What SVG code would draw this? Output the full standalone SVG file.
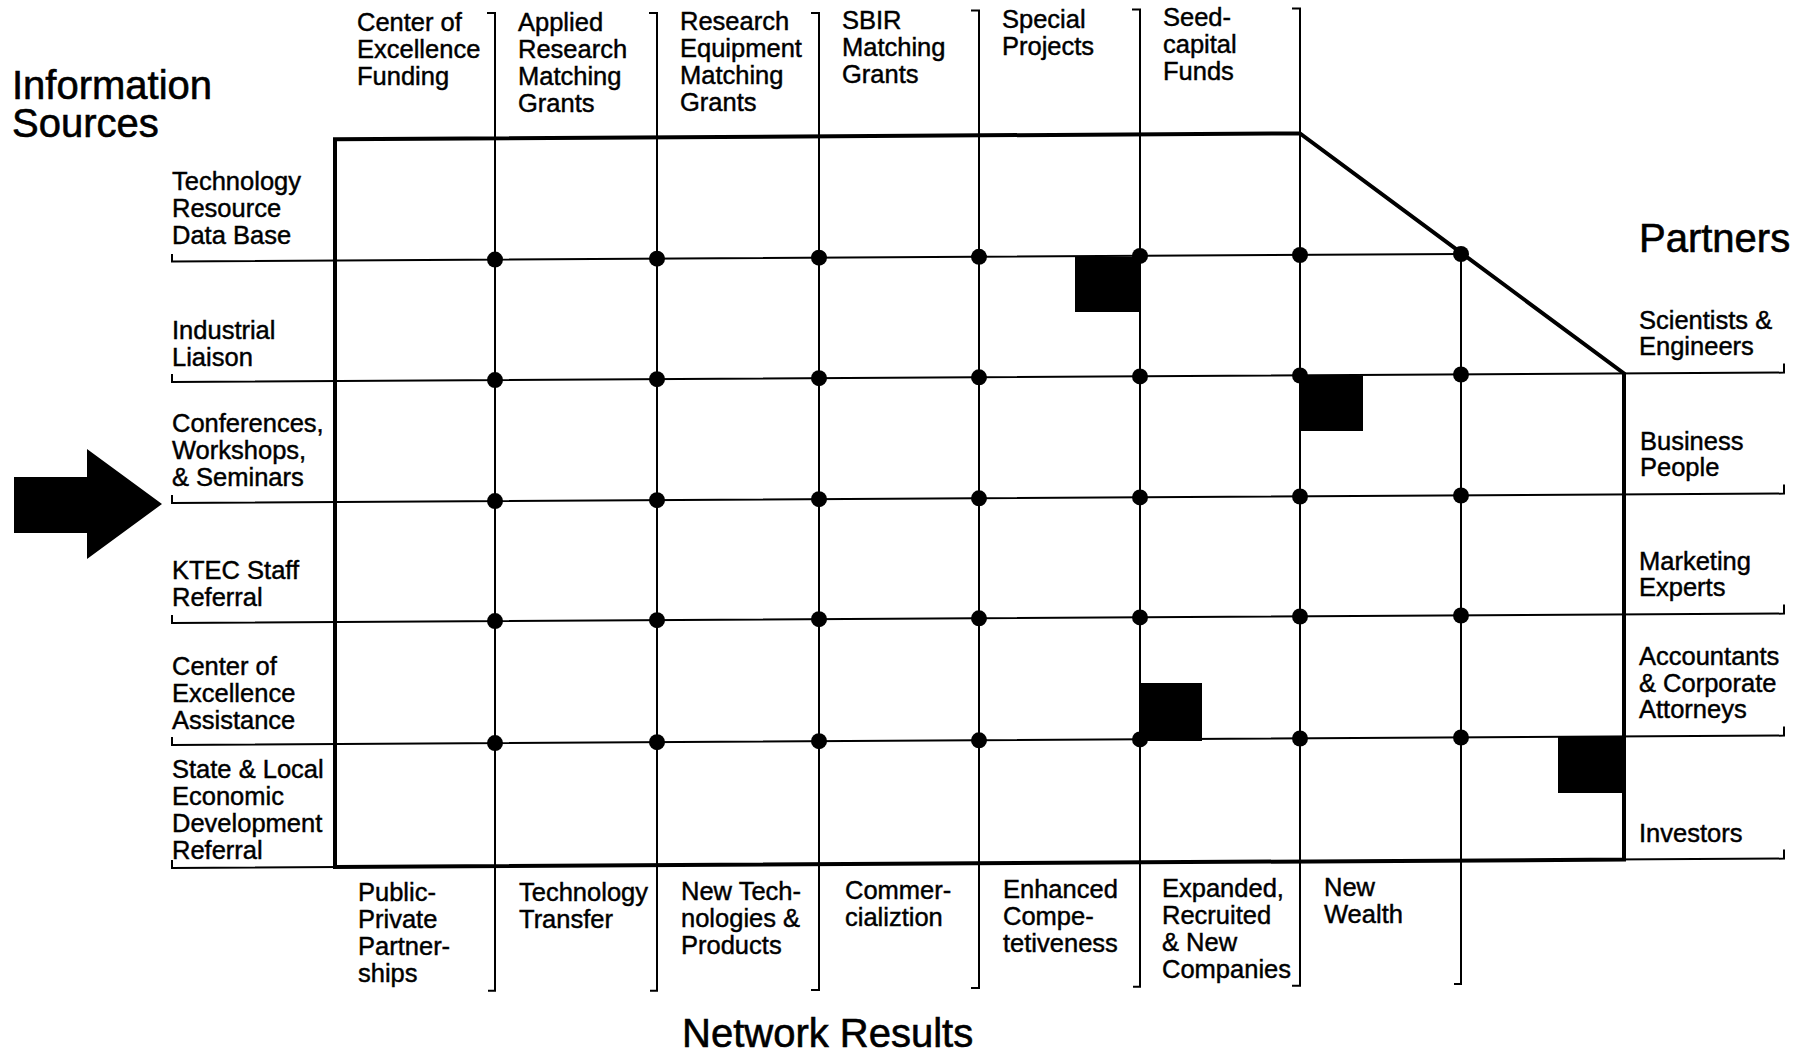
<svg xmlns="http://www.w3.org/2000/svg" width="1798" height="1052" viewBox="0 0 1798 1052">
<style>
  .t { font-family: "Liberation Sans", Arial, Helvetica, sans-serif; font-size: 25.5px; fill: #000; stroke: #000; stroke-width: 0.45px; }
  .title { font-family: "Liberation Sans", Arial, Helvetica, sans-serif; font-size: 40px; fill: #000; stroke: #000; stroke-width: 0.6px; }
  .thin { fill: none; stroke: #000; stroke-width: 2; stroke-linejoin: miter; }
  .thick { fill: none; stroke: #000; stroke-width: 4; stroke-linejoin: miter; }
  .dot { fill: #000; }
  .sq { fill: #000; }
</style>
<rect x="0" y="0" width="1798" height="1052" fill="#fff"/>

<!-- grid connectors -->
<g id="connectors">
  <g id="verticals">
    <path class="thin" d="M487 13 H495 V990.7 H488"/>
    <path class="thin" d="M649 13 H657 V990.7 H650"/>
    <path class="thin" d="M811 13 H819 V990 H811"/>
    <path class="thin" d="M971 10.5 H979 V988 H971"/>
    <path class="thin" d="M1132 9.5 H1140 V986.7 H1133"/>
    <path class="thin" d="M1292 8.5 H1300 V985.7 H1292"/>
    <path class="thin" d="M1461 253 V984 H1454"/>
  </g>
  <g id="horizontals">
    <path class="thin" d="M172 254 V261.5 L1461 254"/>
    <path class="thin" d="M172 374 V382 L1784 372.6 V363.6"/>
    <path class="thin" d="M172 495 V503 L1784 493.6 V484.6"/>
    <path class="thin" d="M172 615 V623 L1784 613.6 V604.6"/>
    <path class="thin" d="M172 737 V745 L1784 735.6 V726.6"/>
    <path class="thin" d="M172 860 V868 L1784 858.6 V849.6"/>
  </g>
  <path id="frame" class="thick" d="M335 139.3 L1300 133.4 L1624 373.5 L1624 859.6 L335 867 Z"/>
  <g id="dots">
    <circle class="dot" cx="495" cy="259.6" r="8"/><circle class="dot" cx="657" cy="258.7" r="8"/><circle class="dot" cx="819" cy="257.7" r="8"/><circle class="dot" cx="979" cy="256.8" r="8"/><circle class="dot" cx="1140" cy="255.9" r="8"/><circle class="dot" cx="1300" cy="255" r="8"/><circle class="dot" cx="1461" cy="254" r="8"/>
    <circle class="dot" cx="495" cy="380.1" r="8"/><circle class="dot" cx="657" cy="379.2" r="8"/><circle class="dot" cx="819" cy="378.2" r="8"/><circle class="dot" cx="979" cy="377.3" r="8"/><circle class="dot" cx="1140" cy="376.4" r="8"/><circle class="dot" cx="1300" cy="375.5" r="8"/><circle class="dot" cx="1461" cy="374.5" r="8"/>
    <circle class="dot" cx="495" cy="501.1" r="8"/><circle class="dot" cx="657" cy="500.2" r="8"/><circle class="dot" cx="819" cy="499.2" r="8"/><circle class="dot" cx="979" cy="498.3" r="8"/><circle class="dot" cx="1140" cy="497.4" r="8"/><circle class="dot" cx="1300" cy="496.5" r="8"/><circle class="dot" cx="1461" cy="495.5" r="8"/>
    <circle class="dot" cx="495" cy="621.1" r="8"/><circle class="dot" cx="657" cy="620.2" r="8"/><circle class="dot" cx="819" cy="619.2" r="8"/><circle class="dot" cx="979" cy="618.3" r="8"/><circle class="dot" cx="1140" cy="617.4" r="8"/><circle class="dot" cx="1300" cy="616.5" r="8"/><circle class="dot" cx="1461" cy="615.5" r="8"/>
    <circle class="dot" cx="495" cy="743.1" r="8"/><circle class="dot" cx="657" cy="742.2" r="8"/><circle class="dot" cx="819" cy="741.2" r="8"/><circle class="dot" cx="979" cy="740.3" r="8"/><circle class="dot" cx="1140" cy="739.4" r="8"/><circle class="dot" cx="1300" cy="738.5" r="8"/><circle class="dot" cx="1461" cy="737.5" r="8"/>
  </g>
  <g id="squares">
    <rect class="sq" x="1075" y="257" width="65" height="55"/>
    <rect class="sq" x="1300" y="376" width="63" height="55"/>
    <rect class="sq" x="1140" y="683" width="62" height="58"/>
    <rect class="sq" x="1558" y="737" width="66" height="56"/>
  </g>
</g>

<g id="arrow">
  <polygon fill="#000" points="14,477 87,477 87,449 162,504 87,559 87,533 14,533"/>
</g>

<!-- titles -->
<g id="title-sources"><text class="title" x="12" y="99">Information<tspan x="12" dy="38">Sources</tspan></text></g>
<g id="title-partners"><text class="title" x="1639" y="252">Partners</text></g>
<g id="title-results"><text class="title" x="682" y="1047">Network Results</text></g>

<!-- top: funding programs -->
<g id="prog-coe"><text class="t" x="357" y="31">Center of<tspan x="357" dy="27">Excellence</tspan><tspan x="357" dy="27">Funding</tspan></text></g>
<g id="prog-arm"><text class="t" x="518" y="30.5">Applied<tspan x="518" dy="27">Research</tspan><tspan x="518" dy="27">Matching</tspan><tspan x="518" dy="27">Grants</tspan></text></g>
<g id="prog-rem"><text class="t" x="680" y="30">Research<tspan x="680" dy="27">Equipment</tspan><tspan x="680" dy="27">Matching</tspan><tspan x="680" dy="27">Grants</tspan></text></g>
<g id="prog-sbir"><text class="t" x="842" y="29">SBIR<tspan x="842" dy="27">Matching</tspan><tspan x="842" dy="27">Grants</tspan></text></g>
<g id="prog-special"><text class="t" x="1002" y="27.5">Special<tspan x="1002" dy="27">Projects</tspan></text></g>
<g id="prog-seed"><text class="t" x="1163" y="26">Seed-<tspan x="1163" dy="27">capital</tspan><tspan x="1163" dy="27">Funds</tspan></text></g>

<!-- left: information sources -->
<g id="src-trdb"><text class="t" x="172" y="190">Technology<tspan x="172" dy="27">Resource</tspan><tspan x="172" dy="27">Data Base</tspan></text></g>
<g id="src-il"><text class="t" x="172" y="339">Industrial<tspan x="172" dy="27">Liaison</tspan></text></g>
<g id="src-conf"><text class="t" x="172" y="432">Conferences,<tspan x="172" dy="27">Workshops,</tspan><tspan x="172" dy="27">&amp; Seminars</tspan></text></g>
<g id="src-ktec"><text class="t" x="172" y="579">KTEC Staff<tspan x="172" dy="27">Referral</tspan></text></g>
<g id="src-coe"><text class="t" x="172" y="675">Center of<tspan x="172" dy="27">Excellence</tspan><tspan x="172" dy="27">Assistance</tspan></text></g>
<g id="src-state"><text class="t" x="172" y="778">State &amp; Local<tspan x="172" dy="27">Economic</tspan><tspan x="172" dy="27">Development</tspan><tspan x="172" dy="27">Referral</tspan></text></g>

<!-- right: partners -->
<g id="par-sci"><text class="t" x="1639" y="328.5">Scientists &amp;<tspan x="1639" dy="26">Engineers</tspan></text></g>
<g id="par-bus"><text class="t" x="1640" y="449.5">Business<tspan x="1640" dy="26">People</tspan></text></g>
<g id="par-mkt"><text class="t" x="1639" y="570">Marketing<tspan x="1639" dy="26">Experts</tspan></text></g>
<g id="par-acc"><text class="t" x="1639" y="665">Accountants<tspan x="1639" dy="26.5">&amp; Corporate</tspan><tspan x="1639" dy="26.5">Attorneys</tspan></text></g>
<g id="par-inv"><text class="t" x="1639" y="841.5">Investors</text></g>

<!-- bottom: network results -->
<g id="res-ppp"><text class="t" x="358" y="901">Public-<tspan x="358" dy="27">Private</tspan><tspan x="358" dy="27">Partner-</tspan><tspan x="358" dy="27">ships</tspan></text></g>
<g id="res-tt"><text class="t" x="519" y="901">Technology<tspan x="519" dy="27">Transfer</tspan></text></g>
<g id="res-ntp"><text class="t" x="681" y="899.5">New Tech-<tspan x="681" dy="27">nologies &amp;</tspan><tspan x="681" dy="27">Products</tspan></text></g>
<g id="res-com"><text class="t" x="845" y="899">Commer-<tspan x="845" dy="27">cializtion</tspan></text></g>
<g id="res-ec"><text class="t" x="1003" y="897.5">Enhanced<tspan x="1003" dy="27">Compe-</tspan><tspan x="1003" dy="27">tetiveness</tspan></text></g>
<g id="res-erc"><text class="t" x="1162" y="897">Expanded,<tspan x="1162" dy="27">Recruited</tspan><tspan x="1162" dy="27">&amp; New</tspan><tspan x="1162" dy="27">Companies</tspan></text></g>
<g id="res-nw"><text class="t" x="1324" y="896">New<tspan x="1324" dy="27">Wealth</tspan></text></g>
</svg>
